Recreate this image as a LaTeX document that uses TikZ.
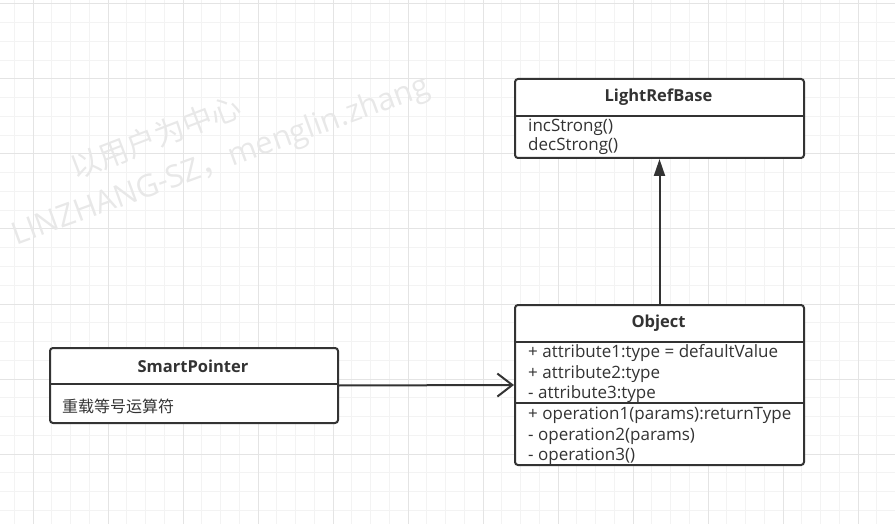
\documentclass[tikz,border=0pt]{standalone}
\usepackage{fontspec}
\setmainfont{Open Sans}
\newfontfamily\cjk{Noto Sans CJK SC}
\usetikzlibrary{arrows.meta}
\definecolor{umlline}{HTML}{333333}
\definecolor{gridminor}{HTML}{F3F3F3}
\definecolor{gridmajor}{HTML}{E4E4E4}
\definecolor{wmark}{HTML}{E8E8E8}
\tikzset{
  classbox/.style={draw=umlline, line width=2pt, rounded corners=3pt, fill=white, anchor=north west, inner sep=0pt},
  classline/.style={draw=umlline, line width=2pt},
  classname/.style={text=umlline, inner sep=0pt, font=\bfseries\fontsize{16.5}{18}\selectfont},
  member/.style={text=umlline, anchor=west, align=left, inner sep=0pt, font=\fontsize{17}{20.5}\selectfont},
  watermark/.style={text=wmark, inner sep=0pt, rotate=20},
}

\begin{document}
\begin{tikzpicture}[x=1pt,y=-1pt]
                  \useasboundingbox (0,0) rectangle (895,524);
                  % grid
                  \foreach \i in {0,...,48} \draw [gridminor, line width=1pt] ({-4.5+18.75*\i},0) -- ({-4.5+18.75*\i},524);
                  \foreach \i in {0,...,28} \draw [gridminor, line width=1pt] (0,{4+18.75*\i}) -- (895,{4+18.75*\i});
                  \foreach \i in {0,...,11} \draw [gridmajor, line width=1pt] ({33+75*\i},0) -- ({33+75*\i},524);
                  \foreach \i in {0,...,6} \draw [gridmajor, line width=1pt] (0,{4+75*\i}) -- (895,{4+75*\i});
                  % watermark
                  \node [watermark, anchor=base west, rotate=1, font=\cjk\fontsize{30}{30}\selectfont] (wmcn) at (75,180) {以用户为中心};
                  \node [watermark, anchor=base east, font=\fontsize{31}{31}\selectfont] (wmen) at (432,94) {LINZHANG-SZ{\cjk ，}menglin.zhang};
                  % LightRefBase top right
                  \node [classbox, minimum width=289pt, minimum height=79pt] (base) at (514,78) {};
                  \node [classname] (basename) at (658.5,97) {LightRefBase};
                  \draw [classline] (514,116) -- (803,116);
                  \node [member, font=\fontsize{17}{19}\selectfont] (basemembers) at (528,137) {incStrong()\\decStrong()};
                  % Object bottom right
                  \node [classbox, minimum width=289pt, minimum height=160pt] (obj) at (514,304) {};
                  \node [classname] (objname) at (658.5,323) {Object};
                  \draw [classline] (514,342) -- (803,342);
                  \node [member] (objattrs) at (528,374) {+ attribute1:type = defaultValue\\+ attribute2:type\\- attribute3:type};
                  \draw [classline] (514,403) -- (803,403);
                  \node [member] (objops) at (528,436) {+ operation1(params):returnType\\- operation2(params)\\- operation3()};
                  % SmartPointer bottom left
                  \node [classbox, minimum width=288pt, minimum height=75pt] (sp) at (49,347) {};
                  \node [classname] (spname) at (193,366) {SmartPointer};
                  \draw [classline] (49,384) -- (337,384);
                  \node [member, font=\cjk\fontsize{16}{20}\selectfont] (spmembers) at (62,406) {重载等号运算符};
                  % arrow up
                  \draw [classline, -{Triangle[length=17pt,width=11pt]}] (obj.north) -- (base.south);
                  % arrow right
                  \draw [classline, -{Straight Barb[length=15pt,width=23pt,line width=2pt]}] (sp.east) -- (obj.west);
               \end{tikzpicture}
\end{document}
